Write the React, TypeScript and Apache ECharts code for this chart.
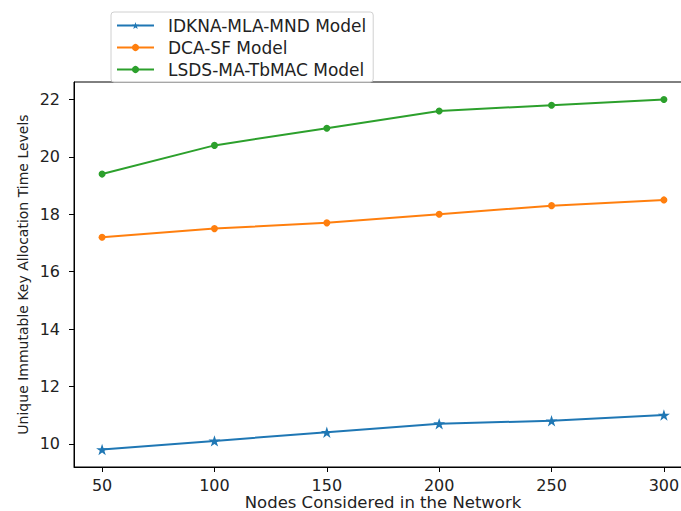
import React, { useEffect, useRef } from "react";
import * as echarts from "echarts";

const nodes = [50, 100, 150, 200, 250, 300];
const idknaValues = [9.8, 10.1, 10.4, 10.7, 10.8, 11.0];
const dcaValues = [17.2, 17.5, 17.7, 18.0, 18.3, 18.5];
const lsdsValues = [19.4, 20.4, 21.0, 21.6, 21.8, 22.0];
const yTicks = [10, 12, 14, 16, 18, 20, 22];
const seriesNames = ["IDKNA-MLA-MND Model", "DCA-SF Model", "LSDS-MA-TbMAC Model"];

const STAR =
  "path://M0,-1L0.2245,-0.309L0.951,-0.309L0.363,0.118L0.588,0.809L0,0.382L-0.588,0.809L-0.363,0.118L-0.951,-0.309L-0.2245,-0.309Z";

const FONT = "DejaVu Sans";

export default function App() {
  const ref = useRef<HTMLDivElement>(null);
  useEffect(() => {
    if (!ref.current) return;
    const chart = echarts.init(ref.current, undefined, { renderer: "svg" });
    const pair = (vals: number[]) => nodes.map((x, i) => [x, vals[i]]);
    chart.setOption({
      animation: false,
      backgroundColor: "#fff",
      textStyle: { fontFamily: FONT },
      grid: {
        left: 74,
        top: 82,
        right: 8,
        bottom: 44,
        outerBoundsMode: "none",
        containLabel: false,
        show: true,
        borderColor: "#000",
        borderWidth: 1,
        backgroundColor: "transparent",
      },
      legend: {
        orient: "vertical",
        left: 111,
        top: 12,
        itemWidth: 37,
        itemHeight: 9,
        itemGap: 5,
        padding: [5, 7, 4, 5],
        backgroundColor: "rgba(255,255,255,0.85)",
        borderColor: "#d0d0d0",
        borderWidth: 1,
        borderRadius: 3,
        textStyle: { fontFamily: FONT, fontSize: 17, color: "#222", padding: [0, 0, 0, 9] },
        data: seriesNames,
      },
      xAxis: {
        type: "value",
        min: 37.5,
        max: 312.5,
        name: "Nodes Considered in the Network",
        nameLocation: "middle",
        nameGap: 28,
        nameMoveOverlap: false,
        nameTextStyle: { fontFamily: FONT, fontSize: 16.5, lineHeight: 15, color: "#222" },
        axisLine: { show: true, lineStyle: { color: "#000", width: 1 } },
        axisTick: { show: true, length: 5, customValues: nodes, lineStyle: { color: "#000" } },
        axisLabel: {
          customValues: nodes,
          margin: 10,
          fontFamily: FONT,
          fontSize: 16,
          lineHeight: 16,
          color: "#222",
        },
        splitLine: { show: false },
      },
      yAxis: {
        type: "value",
        min: 9.19,
        max: 22.61,
        name: "Unique Immutable Key Allocation Time Levels",
        nameLocation: "middle",
        nameRotate: 90,
        nameGap: 44,
        nameMoveOverlap: false,
        nameTextStyle: { fontFamily: FONT, fontSize: 14, color: "#222" },
        axisLine: { show: true, lineStyle: { color: "#000", width: 1 } },
        axisTick: { show: true, length: 5, customValues: yTicks, lineStyle: { color: "#000" } },
        axisLabel: { customValues: yTicks, margin: 14, fontFamily: FONT, fontSize: 16, color: "#222" },
        splitLine: { show: false },
      },
      series: [
        {
          name: seriesNames[0],
          type: "line",
          data: pair(idknaValues),
          color: "#1f77b4",
          symbol: STAR,
          symbolSize: 12,
          symbolKeepAspect: true,
          lineStyle: { width: 2 },
        },
        {
          name: seriesNames[1],
          type: "line",
          data: pair(dcaValues),
          color: "#ff7f0e",
          symbol: "circle",
          symbolSize: 7,
          lineStyle: { width: 2 },
        },
        {
          name: seriesNames[2],
          type: "line",
          data: pair(lsdsValues),
          color: "#2ca02c",
          symbol: "circle",
          symbolSize: 7,
          lineStyle: { width: 2 },
        },
      ],
    });
    return () => chart.dispose();
  }, []);
  return (
    <div
      style={{
        position: "absolute",
        left: 0,
        top: 0,
        width: 681,
        height: 511,
        overflow: "hidden",
      }}
    >
      <div ref={ref} style={{ width: 700, height: 511 }} />
    </div>
  );
}
